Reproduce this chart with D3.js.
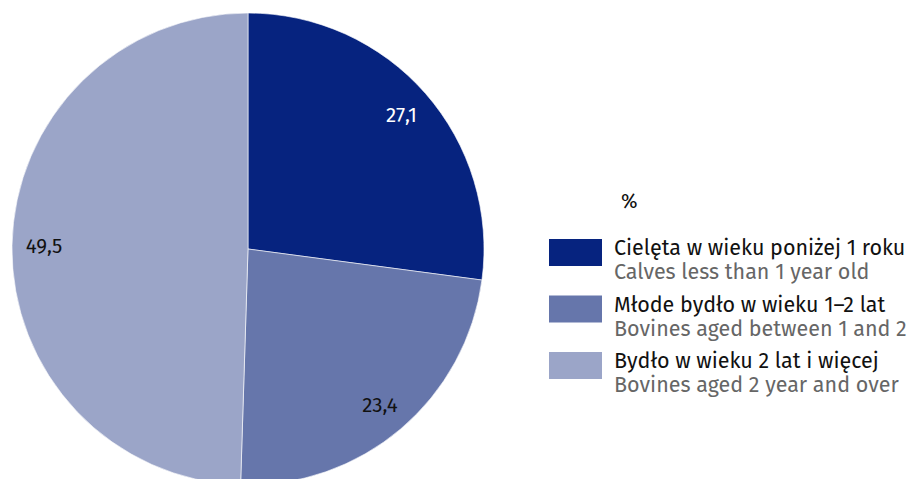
<!DOCTYPE html>
<html>
<head>
<meta charset="utf-8">
<script src="https://cdn.jsdelivr.net/npm/d3@7"></script>
<style>
  body { margin: 0; background: #fff; }
  svg { display: block; font-family: "Fira Sans", "Open Sans", sans-serif; }
</style>
</head>
<body>
<svg id="chart" width="907" height="479"></svg>
<script>
// data
const categoriesPl = ["Cielęta w wieku poniżej 1 roku", "Młode bydło w wieku 1–2 lat", "Bydło w wieku 2 lat i więcej"];
const categoriesEn = ["Calves less than 1 year old", "Bovines aged between 1 and 2", "Bovines aged 2 year and over"];
const values = [27.1, 23.4, 49.5];
const colors = ["#06237f", "#6676ab", "#9ba5c8"];
const labelColors = ["#ffffff", "#111111", "#111111"];
const unit = "%";

const svg = d3.select("#chart");
const radius = 236;
const cx = 248, cy = 249;

const pie = d3.pie().sort(null).value(d => d)(values);
const arc = d3.arc().innerRadius(0).outerRadius(radius);
const labelArc = d3.arc().innerRadius(204).outerRadius(204);

const g = svg.append("g").attr("transform", `translate(${cx}, ${cy})`);

g.selectAll("path")
  .data(pie)
  .enter()
  .append("path")
  .attr("d", arc)
  .attr("fill", (d, i) => colors[i])
  .attr("stroke", "#fff")
  .attr("stroke-width", 0.6);

g.selectAll(".lbl")
  .data(pie)
  .enter()
  .append("text")
  .attr("class", "lbl")
  .attr("transform", d => `translate(${labelArc.centroid(d)})`)
  .attr("text-anchor", "middle")
  .attr("dy", "0.35em")
  .attr("font-size", 20.5)
  .attr("fill", (d, i) => labelColors[i])
  .text(d => d3.format(".1f")(d.data).replace(".", ","));

// legend
const legend = svg.append("g");
legend.append("text")
  .attr("x", 621).attr("y", 208)
  .attr("font-size", 20)
  .attr("fill", "#111")
  .text(unit);

const rowY = d3.scalePoint().domain(d3.range(values.length)).range([239, 352]);

const row = legend.selectAll(".row")
  .data(values)
  .enter()
  .append("g")
  .attr("class", "row")
  .attr("transform", (d, i) => `translate(549, ${rowY(i)})`);

row.append("rect")
  .attr("width", 53).attr("height", 27)
  .attr("fill", (d, i) => colors[i]);

row.append("text")
  .attr("x", 65).attr("y", 16)
  .attr("font-size", 21.5)
  .attr("fill", "#111")
  .text((d, i) => categoriesPl[i]);

row.append("text")
  .attr("x", 65).attr("y", 40)
  .attr("font-size", 21.5)
  .attr("fill", "#666")
  .text((d, i) => categoriesEn[i]);
</script>
</body>
</html>
